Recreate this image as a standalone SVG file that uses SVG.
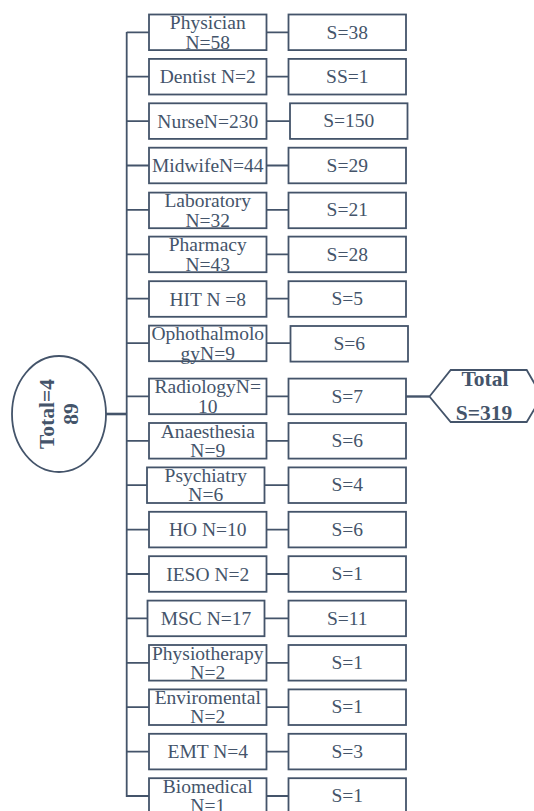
<svg xmlns="http://www.w3.org/2000/svg" width="534" height="811" viewBox="0 0 534 811">
<style>
.box{fill:#fff;stroke:#44546a;stroke-width:1.8}
.t{font-family:"Liberation Serif","Times New Roman",serif;font-size:19.5px;fill:#44546a;text-anchor:middle}
.b{font-family:"Liberation Serif","Times New Roman",serif;font-size:21.5px;font-weight:bold;fill:#44546a;text-anchor:middle}
.c{stroke:#44546a;stroke-width:1.8;fill:none}
</style>
<rect width="534" height="811" fill="#fff"/>
<g id="connectors">
<line class="c" x1="126.7" y1="32" x2="126.7" y2="797"/>
<line class="c" x1="106" y1="414" x2="126.7" y2="414" style="stroke-width:2.6"/>
<line class="c" x1="406" y1="396.5" x2="429.5" y2="396.5" style="stroke-width:2.4"/>
<path class="c" d="M126.7 32.3H149M126.7 76.7H149M126.7 121.1H149M126.7 165.5H149M126.7 209.9H149M126.7 254.3H149M126.7 298.7H149M126.7 343.1H149M126.7 396.4H149M126.7 440.8H149M126.7 485.2H147M126.7 529.6H149M126.7 574H149M126.7 618.4H147.5M126.7 662.8H149M126.7 707.2H149M126.7 751.6H149M126.7 796H149"/>
<path class="c" d="M266.5 32.3H288.5M266.5 76.7H288.5M266.5 121.1H290M266.5 165.5H288.5M266.5 209.9H288.5M266.5 254.3H288.5M266.5 298.7H288.5M266.5 343.1H290.5M266.5 396.4H288.5M266.5 440.8H288.5M264.5 485.2H288.5M264.5 618.4H288.5M266.5 529.6H288.5M266.5 574H288.5M266.5 662.8H288.5M266.5 707.2H288.5M266.5 751.6H288.5M266.5 796H288.5"/>
</g>
<g id="total">
<ellipse class="box" cx="59" cy="414" rx="47" ry="58"/>
<text class="b" transform="translate(53.5,414) rotate(-90)">Total=4</text>
<text class="b" transform="translate(78,414) rotate(-90)">89</text>
</g>
<g id="totalS">
<polygon class="box" points="429.5,396.5 450.7,370 526.7,370 542,396.5 526.7,422 450.7,422"/>
<text class="b" x="485" y="386">Total</text>
<text class="b" x="484" y="419.5">S=319</text>
</g>
<g id="n0"><rect class="box" x="149" y="14.5" width="117.5" height="35.6"/><text class="t" x="207.75" y="29">Physician</text><text class="t" x="207.75" y="48.5">N=58</text></g>
<g id="s0"><rect class="box" x="288.5" y="14.5" width="117.5" height="35.6"/><text class="t" x="347.25" y="38.5">S=38</text></g>
<g id="n1"><rect class="box" x="149" y="58.9" width="117.5" height="35.6"/><text class="t" x="207.75" y="83.2">Dentist N=2</text></g>
<g id="s1"><rect class="box" x="288.5" y="58.9" width="117.5" height="35.6"/><text class="t" x="347.25" y="83">SS=1</text></g>
<g id="n2"><rect class="box" x="149" y="103.3" width="117.5" height="35.6"/><text class="t" x="207.75" y="127.6">NurseN=230</text></g>
<g id="s2"><rect class="box" x="290" y="103.3" width="117.5" height="35.6"/><text class="t" x="348.75" y="127.4">S=150</text></g>
<g id="n3"><rect class="box" x="149" y="147.7" width="117.5" height="35.6"/><text class="t" x="207.75" y="172">MidwifeN=44</text></g>
<g id="s3"><rect class="box" x="288.5" y="147.7" width="117.5" height="35.6"/><text class="t" x="347.25" y="171.8">S=29</text></g>
<g id="n4"><rect class="box" x="149" y="192.6" width="117.5" height="35.6"/><text class="t" x="207.75" y="207.2">Laboratory</text><text class="t" x="207.75" y="226.6">N=32</text></g>
<g id="s4"><rect class="box" x="288.5" y="192.6" width="117.5" height="35.6"/><text class="t" x="347.25" y="216.3">S=21</text></g>
<g id="n5"><rect class="box" x="149" y="236.6" width="117.5" height="35.6"/><text class="t" x="207.75" y="251.2">Pharmacy</text><text class="t" x="207.75" y="270.6">N=43</text></g>
<g id="s5"><rect class="box" x="288.5" y="236.6" width="117.5" height="35.6"/><text class="t" x="347.25" y="260.6">S=28</text></g>
<g id="n6"><rect class="box" x="149" y="281.2" width="117.5" height="35.6"/><text class="t" x="207.75" y="305.5">HIT N =8</text></g>
<g id="s6"><rect class="box" x="288.5" y="281.2" width="117.5" height="35.6"/><text class="t" x="347.25" y="305.3">S=5</text></g>
<g id="n7"><rect class="box" x="149" y="325.6" width="117.5" height="35.6"/><text class="t" x="207.75" y="340.2">Ophothalmolo</text><text class="t" x="207.75" y="359.6">gyN=9</text></g>
<g id="s7"><rect class="box" x="290.5" y="326" width="117.5" height="35.6"/><text class="t" x="349.25" y="350">S=6</text></g>
<g id="n8"><rect class="box" x="149" y="378.6" width="117.5" height="35.6"/><text class="t" x="207.75" y="393.2">RadiologyN=</text><text class="t" x="207.75" y="412.6">10</text></g>
<g id="s8"><rect class="box" x="288.5" y="378.6" width="117.5" height="35.6"/><text class="t" x="347.25" y="403">S=7</text></g>
<g id="n9"><rect class="box" x="149" y="423" width="117.5" height="35.6"/><text class="t" x="207.75" y="437.6">Anaesthesia</text><text class="t" x="207.75" y="457">N=9</text></g>
<g id="s9"><rect class="box" x="288.5" y="423" width="117.5" height="35.6"/><text class="t" x="347.25" y="447">S=6</text></g>
<g id="n10"><rect class="box" x="147" y="467.4" width="117.5" height="35.6"/><text class="t" x="205.75" y="482">Psychiatry</text><text class="t" x="205.75" y="501.4">N=6</text></g>
<g id="s10"><rect class="box" x="288.5" y="467.4" width="117.5" height="35.6"/><text class="t" x="347.25" y="491.4">S=4</text></g>
<g id="n11"><rect class="box" x="149" y="511.8" width="117.5" height="35.6"/><text class="t" x="207.75" y="536.1">HO N=10</text></g>
<g id="s11"><rect class="box" x="288.5" y="511.8" width="117.5" height="35.6"/><text class="t" x="347.25" y="535.9">S=6</text></g>
<g id="n12"><rect class="box" x="149" y="556.2" width="117.5" height="35.6"/><text class="t" x="207.75" y="580.5">IESO N=2</text></g>
<g id="s12"><rect class="box" x="288.5" y="556.2" width="117.5" height="35.6"/><text class="t" x="347.25" y="580.3">S=1</text></g>
<g id="n13"><rect class="box" x="147.5" y="600.6" width="117" height="35.6"/><text class="t" x="206" y="624.9">MSC N=17</text></g>
<g id="s13"><rect class="box" x="288.5" y="600.6" width="117.5" height="35.6"/><text class="t" x="347.25" y="624.7">S=11</text></g>
<g id="n14"><rect class="box" x="149" y="645" width="117.5" height="35.6"/><text class="t" x="207.75" y="659.6">Physiotherapy</text><text class="t" x="207.75" y="679">N=2</text></g>
<g id="s14"><rect class="box" x="288.5" y="645" width="117.5" height="35.6"/><text class="t" x="347.25" y="669">S=1</text></g>
<g id="n15"><rect class="box" x="149" y="689.4" width="117.5" height="35.6"/><text class="t" x="207.75" y="704">Enviromental</text><text class="t" x="207.75" y="723.4">N=2</text></g>
<g id="s15"><rect class="box" x="288.5" y="689.4" width="117.5" height="35.6"/><text class="t" x="347.25" y="713.4">S=1</text></g>
<g id="n16"><rect class="box" x="149" y="733.8" width="117.5" height="35.6"/><text class="t" x="207.75" y="758.1">EMT N=4</text></g>
<g id="s16"><rect class="box" x="288.5" y="733.8" width="117.5" height="35.6"/><text class="t" x="347.25" y="757.9">S=3</text></g>
<g id="n17"><rect class="box" x="149" y="778.2" width="117.5" height="35.6"/><text class="t" x="207.75" y="792.8">Biomedical</text><text class="t" x="207.75" y="812.2">N=1</text></g>
<g id="s17"><rect class="box" x="288.5" y="778.2" width="117.5" height="35.6"/><text class="t" x="347.25" y="802.2">S=1</text></g>
</svg>
